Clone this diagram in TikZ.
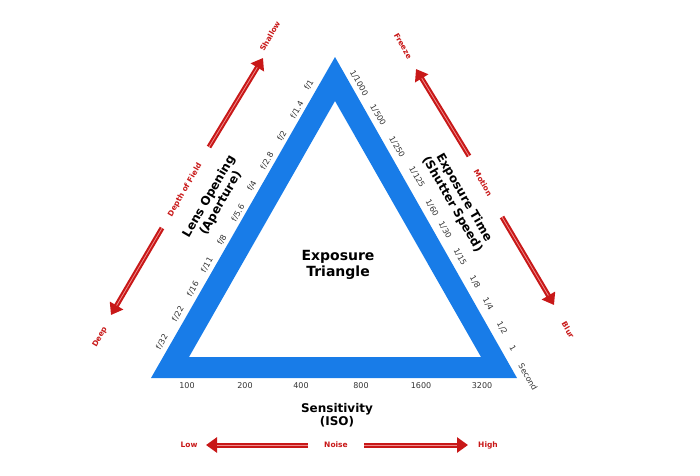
\documentclass[tikz,border=0pt]{standalone}
\usepackage{fontspec}
\setmainfont{DejaVu Sans}
\usetikzlibrary{arrows.meta}
\definecolor{tblue}{RGB}{24,124,232}
\definecolor{tred}{RGB}{200,24,24}
\begin{document}
\begin{tikzpicture}[x=1pt,y=-1pt,
  tick/.style={font=\fontsize{8}{9}\selectfont, text=black!80, inner sep=0pt},
  rlab/.style={font=\bfseries\fontsize{7.5}{8}\selectfont, text=tred, inner sep=0pt},
  title/.style={font=\bfseries\fontsize{12}{13.5}\selectfont, align=center, inner sep=0pt},
  rarrow/.style={tred, line width=5pt, -{Triangle[width=15pt,length=11pt]}},
  rin/.style={draw={rgb,255:red,240;green,140;blue,140}, line width=0.8pt, shorten >=11pt}]
\useasboundingbox (0,0) rectangle (700,475);
\fill[tblue,even odd rule] (335,57) -- (517,378) -- (151,378) -- cycle
  (335,101) -- (481,357) -- (189,357) -- cycle;
\node[title,font=\bfseries\fontsize{14}{16.5}\selectfont] (c) at (338,265) {Exposure\\Triangle};
\node[title] (iso) at (337,415) {Sensitivity\\(ISO)};
\node[title,rotate=60] (ap) at (215,200) {Lens Opening\\(Aperture)};
\node[title,rotate=-60] (sh) at (458,201) {Exposure Time\\(Shutter Speed)};
% aperture ticks
\foreach \t/\x/\y in {f\slash32/162/342, f\slash22/178/314, f\slash16/193/289, f\slash11/207/265, f\slash8/222/240, f\slash5.6/238/213, f\slash4/252/186, f\slash2.8/267/161, f\slash2/282/136, f\slash1.4/297/110, f\slash1/309/85}
  \node[tick,rotate=60] (a\x) at (\x,\y) {\t};
% shutter ticks
\foreach \t/\x/\y in {1\slash1000/359/83, 1\slash500/378/115, 1\slash250/397/147, 1\slash125/417/177, 1\slash60/432/208, 1\slash30/445/230, 1\slash15/460/257, 1\slash8/475/282, 1\slash4/488/304, 1\slash2/502/328, 1/513/348, Second/528/377}
  \node[tick,rotate=-60] (s\x) at (\x,\y) {\t};
% iso ticks
\foreach \t/\x in {100/187, 200/245, 400/301, 800/361, 1600/421, 3200/482}
  \node[tick] (i\x) at (\x,386) {\t};
% red labels
\node[rlab,rotate=60] (shallow) at (270,36) {Shallow};
\node[rlab,rotate=60] (dof) at (185,190) {Depth of Field};
\node[rlab,rotate=60] (deep) at (100,337) {Deep};
\node[rlab,rotate=-60] (freeze) at (403,46) {Freeze};
\node[rlab,rotate=-60] (motion) at (483,183) {Motion};
\node[rlab,rotate=-60] (blur) at (568,330) {Blur};
\node[rlab] (low) at (189,445) {Low};
\node[rlab] (noise) at (336,445) {Noise};
\node[rlab] (high) at (488,445) {High};
% arrows
\coordinate (t1) at (209,147); \coordinate (h1) at (263,58);
\coordinate (t2) at (162,228); \coordinate (h2) at (111,315);
\coordinate (t3) at (469,156); \coordinate (h3) at (416,69);
\coordinate (t4) at (502,217); \coordinate (h4) at (554,305);
\coordinate (t5) at (308,445); \coordinate (h5) at (206,445);
\coordinate (t6) at (364,445); \coordinate (h6) at (468,445);
\foreach \i in {1,...,6} {
  \draw[rarrow] (t\i) -- (h\i);
  \draw[rin] (t\i) -- (h\i);
}
\end{tikzpicture}
\end{document}
